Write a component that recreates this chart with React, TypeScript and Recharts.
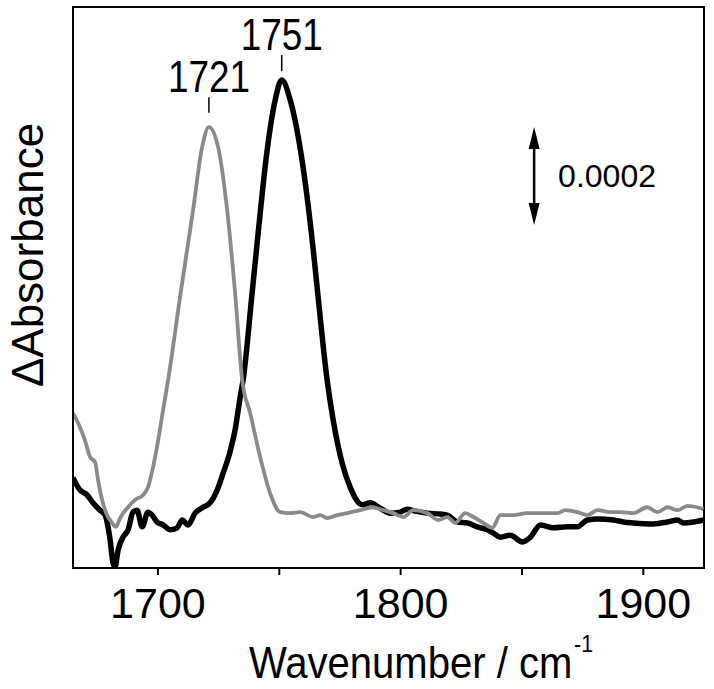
import { Line, LineChart, ReferenceArea, ReferenceLine, XAxis, YAxis } from "recharts";

// wavenumber (cm-1) vs ΔAbsorbance in units of 1e-4
const blackSpectrum = [
  [1665.0, 1.84], [1667.9, 1.59], [1670.8, 1.49], [1673.2, 1.33], [1676.1, 1.18],
  [1678.2, 1.08], [1680.3, 0.57], [1681.5, 0.1], [1682.3, 0.02], [1683.6, 0.37],
  [1685.6, 0.63], [1687.7, 0.78], [1689.7, 1.14], [1691.4, 1.18], [1693.5, 0.84],
  [1695.9, 1.14], [1697.6, 1.08], [1699.6, 0.94], [1702.1, 0.88], [1705.0, 0.78],
  [1707.9, 0.82], [1710.0, 0.98], [1712.4, 0.88], [1715.3, 1.12], [1718.6, 1.24],
  [1721.5, 1.33], [1724.4, 1.59], [1726.9, 1.94], [1729.7, 2.37], [1731.8, 2.82],
  [1733.9, 3.49], [1735.1, 3.84], [1738.8, 5.61], [1741.3, 6.84], [1745.0, 8.53],
  [1748.3, 9.55], [1751.0, 9.96], [1754.5, 9.55], [1759.8, 8.18], [1764.0, 6.49],
  [1766.0, 5.53], [1769.7, 3.84], [1772.2, 3.02], [1775.9, 2.14], [1779.2, 1.65],
  [1784.2, 1.29], [1787.5, 1.33], [1791.6, 1.22], [1795.7, 1.12], [1799.8, 1.14],
  [1802.7, 1.2], [1806.0, 1.16], [1811.0, 1.12], [1816.3, 1.1], [1819.2, 1.08],
  [1823.4, 0.94], [1827.5, 0.92], [1831.6, 0.84], [1835.7, 0.78], [1838.2, 0.71],
  [1841.1, 0.63], [1845.2, 0.67], [1850.2, 0.53], [1853.5, 0.63], [1857.6, 0.88],
  [1862.9, 0.82], [1868.7, 0.84], [1872.8, 0.84], [1877.0, 0.98], [1881.1, 1.0],
  [1887.7, 0.98], [1891.8, 0.94], [1895.9, 0.92], [1904.2, 0.9], [1910.0, 0.94],
  [1914.1, 0.98], [1916.5, 0.92], [1920.7, 0.94], [1924.8, 0.98],
];

const graySpectrum = [
  [1665.0, 3.16], [1667.1, 2.96], [1669.9, 2.61], [1672.0, 2.27], [1674.1, 2.16],
  [1675.3, 1.8], [1677.0, 1.39], [1679.0, 1.08], [1681.1, 0.92], [1682.7, 0.84],
  [1684.4, 1.02], [1687.3, 1.22], [1690.6, 1.39], [1693.9, 1.49], [1695.9, 1.65],
  [1698.0, 2.06], [1700.1, 2.61], [1702.1, 3.22], [1704.2, 3.84], [1709.1, 5.53],
  [1714.5, 7.31], [1718.2, 8.59], [1721.0, 9.0], [1724.8, 8.59], [1728.5, 7.31],
  [1731.8, 5.61], [1734.7, 3.84], [1738.0, 3.16], [1742.1, 2.27], [1746.2, 1.53],
  [1750.4, 1.14], [1754.5, 1.12], [1758.6, 1.14], [1764.0, 1.04], [1766.9, 1.08],
  [1769.7, 1.02], [1773.9, 1.08], [1778.0, 1.12], [1783.4, 1.18], [1788.3, 1.24],
  [1792.8, 1.18], [1797.0, 1.12], [1801.1, 1.04], [1805.2, 1.18], [1811.0, 1.12],
  [1815.5, 0.98], [1819.2, 1.04], [1822.5, 0.92], [1826.6, 1.12], [1830.0, 1.04],
  [1834.1, 0.92], [1837.8, 0.82], [1841.1, 1.08], [1846.4, 1.08], [1852.2, 1.12],
  [1857.6, 1.12], [1864.6, 1.12], [1867.9, 1.18], [1872.8, 1.14], [1877.0, 1.08],
  [1881.1, 1.18], [1886.4, 1.14], [1890.6, 1.14], [1895.9, 1.12], [1901.7, 1.24],
  [1905.8, 1.14], [1910.0, 1.24], [1914.1, 1.18], [1918.2, 1.27], [1923.6, 1.22],
  [1924.8, 1.2],
];

const xTicks = [1700, 1750, 1800, 1850, 1900];
const xLabeled = [1700, 1800, 1900];
const xDomain = [1665, 1925];
const yDomain = [0, 11.45];

// peak markers: position, tick bottom/top, text
const peakMarks = [
  { x: 1721, y0: 9.29, y1: 9.61, text: "1721" },
  { x: 1751, y0: 10.14, y1: 10.47, text: "1751" },
];
// scale bar of 0.0002 (= 2 units)
const scaleBar = { x: 1855, from: 7.0, to: 9.0, text: "0.0002" };

const toRows = (pts: number[][]) => pts.map(([w, a]) => ({ w, a }));
const FONT = "'Liberation Sans', Arial, Helvetica, sans-serif";

function ArrowBar(props: any) {
  const { x1, y1, x2, y2 } = props;
  const top = Math.min(y1, y2);
  const bot = Math.max(y1, y2);
  const hw = 5.5;
  const hl = 22;
  return (
    <g>
      <line x1={x1} y1={top + 10} x2={x2} y2={bot - 10} stroke="#000" strokeWidth={2.5} />
      <polygon points={`${x1},${top} ${x1 - hw},${top + hl} ${x1 + hw},${top + hl}`} fill="#000" />
      <polygon points={`${x1},${bot} ${x1 - hw},${bot - hl} ${x1 + hw},${bot - hl}`} fill="#000" />
    </g>
  );
}

function PeakLabel(props: any) {
  const { viewBox, value } = props;
  return (
    <text
      x={viewBox.x}
      y={viewBox.y - 5}
      textAnchor="middle"
      fontSize={44}
      fontFamily={FONT}
      fill="#000"
      textLength={82}
      lengthAdjust="spacingAndGlyphs"
    >
      {value}
    </text>
  );
}

export default function App() {
  return (
    <div style={{ position: "absolute", left: 0, top: 0, background: "#fff" }}>
      <LineChart width={714} height={689} margin={{ top: 7, right: 10, left: 0, bottom: 0 }}>
        <XAxis
          type="number"
          dataKey="w"
          domain={xDomain}
          ticks={xTicks}
          allowDataOverflow
          tickFormatter={(v) => (xLabeled.includes(v) ? String(v) : "")}
          height={121}
          stroke="#000"
          strokeWidth={2}
          tickSize={7}
          tickMargin={12}
          tick={{ fill: "#000", fontSize: 43, fontFamily: FONT }}
          label={{
            content: () => (
              <text
                transform="translate(249,678) scale(0.89,1)"
                x={0}
                y={0}
                fontSize={45}
                fontFamily={FONT}
                fill="#000"
              >
                Wavenumber / cm
                <tspan fontSize={24} dx={2} dy={-26}>-1</tspan>
              </text>
            ),
          }}
        />
        <YAxis
          type="number"
          domain={yDomain}
          allowDataOverflow
          width={73}
          tick={false}
          tickLine={false}
          stroke="#000"
          strokeWidth={2}
          label={{
            content: () => (
              <text
                x={43}
                y={255}
                transform="rotate(-90, 43, 255)"
                textAnchor="middle"
                fontSize={44}
                fontFamily={FONT}
                fill="#000"
              >
                ΔAbsorbance
              </text>
            ),
          }}
        />
        <ReferenceArea
          x1={xDomain[0]}
          x2={xDomain[1]}
          y1={yDomain[0]}
          y2={yDomain[1]}
          fill="none"
          stroke="#000"
          strokeWidth={2}
          fillOpacity={0}
        />
        <Line
          data={toRows(blackSpectrum)}
          dataKey="a"
          type="monotone"
          stroke="#000"
          strokeWidth={5.5}
          dot={false}
          isAnimationActive={false}
        />
        <Line
          data={toRows(graySpectrum)}
          dataKey="a"
          type="monotone"
          stroke="#8a8a8a"
          strokeWidth={3.8}
          dot={false}
          isAnimationActive={false}
        />
        {peakMarks.map((p) => (
          <ReferenceLine
            key={p.text}
            segment={[{ x: p.x, y: p.y1 }, { x: p.x, y: p.y0 }]}
            stroke="#000"
            strokeWidth={1.5}
            label={{ value: p.text, content: PeakLabel }}
          />
        ))}
        <ReferenceLine
          segment={[{ x: scaleBar.x, y: scaleBar.to }, { x: scaleBar.x, y: scaleBar.from }]}
          shape={ArrowBar}
          label={{ value: scaleBar.text, position: "right", offset: 24, fontSize: 32, fontFamily: FONT, fill: "#000" }}
        />
      </LineChart>
    </div>
  );
}
